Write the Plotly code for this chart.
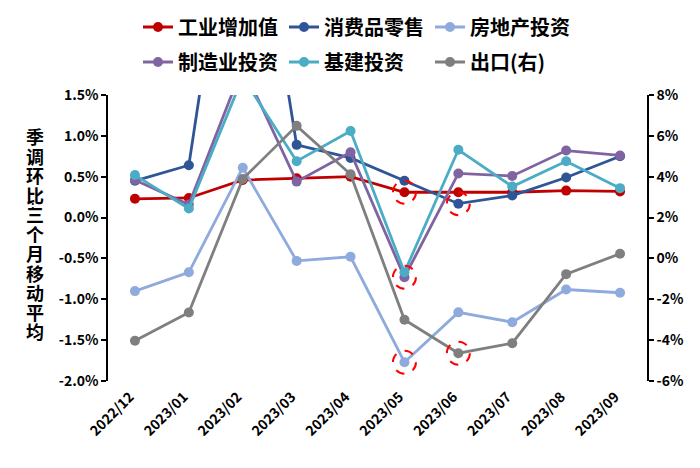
import plotly.graph_objects as go

# ---------------- data ----------------
categories = ["2022/12", "2023/01", "2023/02", "2023/03", "2023/04",
              "2023/05", "2023/06", "2023/07", "2023/08", "2023/09"]

industrial = [0.23, 0.24, 0.46, 0.48, 0.50, 0.31, 0.31, 0.31, 0.33, 0.32]
retail = [0.45, 0.64, 5.00, 0.89, 0.73, 0.45, 0.17, 0.27, 0.49, 0.75]
real_estate = [-0.90, -0.67, 0.61, -0.53, -0.48, -1.77, -1.16, -1.28, -0.88, -0.92]
manufacturing = [0.46, 0.16, 1.85, 0.44, 0.80, -0.73, 0.54, 0.51, 0.82, 0.76]
infrastructure = [0.52, 0.11, 1.72, 0.69, 1.06, -0.67, 0.83, 0.38, 0.69, 0.36]
exports_right = [-4.03, -2.65, 3.89, 6.49, 4.12, -3.00, -4.64, -4.15, -0.77, 0.23]

series_names = ["工业增加值", "消费品零售", "房地产投资", "制造业投资", "基建投资", "出口(右)"]

left_range = [-2.0, 1.5]
right_range = [-6, 8]
left_ticks = [-2.0, -1.5, -1.0, -0.5, 0.0, 0.5, 1.0, 1.5]
right_ticks = [-6, -4, -2, 0, 2, 4, 6, 8]

highlights = [("工业增加值", "2023/05"), ("消费品零售", "2023/06"),
              ("制造业投资", "2023/05"), ("房地产投资", "2023/05"),
              ("出口(右)", "2023/06")]

y_title = "季调环比:三个月移动平均"

# ---------------- styling ----------------
FONT = "Noto Sans CJK SC"
colors = {
    "工业增加值": "#C00000",
    "消费品零售": "#2F5597",
    "房地产投资": "#8FAADC",
    "制造业投资": "#8064A2",
    "基建投资": "#4BACC6",
    "出口(右)": "#7F7F7F",
}
values = {
    "工业增加值": industrial,
    "消费品零售": retail,
    "房地产投资": real_estate,
    "制造业投资": manufacturing,
    "基建投资": infrastructure,
    "出口(右)": exports_right,
}

# the page body has an 8px default margin; the figure is sized to fill the window
PAGE_OFF = 8
W, H = 700 - PAGE_OFF, 468 - PAGE_OFF
# plot area in screen pixels: x 108..647, y 95..381
SX0, SX1, SY0, SY1 = 108, 647, 95, 381
ML, MR = SX0 - PAGE_OFF, W - (SX1 - PAGE_OFF)
MT, MB = SY0 - PAGE_OFF, H - (SY1 - PAGE_OFF)
PW, PH = SX1 - SX0, SY1 - SY0


def px_to_paper_x(sx):
    return (sx - SX0) / PW


def px_to_paper_y(sy):
    return (SY1 - sy) / PH


def px_to_cont_x(sx):
    return (sx - PAGE_OFF) / W


def px_to_cont_y(sy):
    return 1 - (sy - PAGE_OFF) / H


fig = go.Figure()
for i, name in enumerate(series_names):
    right = name == "出口(右)"
    fig.add_trace(go.Scatter(
        x=categories, y=values[name], name=name,
        mode="lines+markers",
        line=dict(color=colors[name], width=2.8),
        marker=dict(color=colors[name], size=10),
        yaxis="y2" if right else "y",
        legend="legend" if i < 3 else "legend2",
    ))

# dashed highlight circles
shapes = []
for name, cat in highlights:
    idx = categories.index(cat)
    val = values[name][idx]
    shapes.append(dict(
        type="circle", xref="x", yref="y2" if name == "出口(右)" else "y",
        xsizemode="pixel", ysizemode="pixel",
        xanchor=idx, yanchor=val,
        x0=-11.5, x1=11.5, y0=-11.5, y1=11.5,
        line=dict(color="#FF0000", width=2, dash="dash"),
        layer="above",
    ))

# vertical y-axis title, characters stacked upright
annotations = []
title_chars = [c for c in y_title if c != ":"]
pitch = 19.5
y_first = 136
for i, ch in enumerate(title_chars):
    annotations.append(dict(
        text=ch, xref="paper", yref="paper",
        x=px_to_paper_x(35), y=px_to_paper_y(y_first + i * pitch),
        showarrow=False, xanchor="center", yanchor="middle",
        font=dict(family=FONT, size=18, color="black", weight="bold"),
    ))
annotations.append(dict(
    text=":", xref="paper", yref="paper",
    x=px_to_paper_x(33), y=px_to_paper_y(y_first + 3.5 * pitch),
    showarrow=False, xanchor="center", yanchor="middle",
    font=dict(family=FONT, size=11, color="black", weight="bold"),
))

zero_pos = (0 - left_range[0]) / (left_range[1] - left_range[0])
tick_font = dict(family=FONT, size=14, color="black", weight="bold")
legend_font = dict(family=FONT, size=20, color="black", weight="bold")

legend_common = dict(
    orientation="h", xref="container", yref="container",
    x=px_to_cont_x(138), xanchor="left", yanchor="middle",
    entrywidth=101, entrywidthmode="pixels",
    font=legend_font, traceorder="normal", bgcolor="rgba(0,0,0,0)",
)

fig.update_layout(
    width=W, height=H,
    margin=dict(l=ML, r=MR, t=MT, b=MB, autoexpand=False),
    plot_bgcolor="white", paper_bgcolor="white",
    showlegend=True,
    legend=dict(legend_common, y=px_to_cont_y(27)),
    legend2=dict(legend_common, y=px_to_cont_y(62)),
    xaxis=dict(
        type="category", categoryorder="array", categoryarray=categories,
        range=[-0.5, len(categories) - 0.5],
        showline=False, ticks="", showgrid=False, zeroline=False,
        tickangle=-45, tickfont=tick_font, ticklabelshift=-5,
        ticklabelstandoff=4,
    ),
    xaxis2=dict(
        overlaying="x", anchor="free", position=zero_pos,
        range=[-0.5, len(categories) - 0.5],
        tickvals=[i + 0.5 for i in range(len(categories) - 1)],
        ticks="outside", ticklen=5, tickcolor="black", tickwidth=1.5,
        showticklabels=False, showline=True, linecolor="black", linewidth=1.5,
        showgrid=False, zeroline=False,
    ),
    yaxis=dict(
        range=left_range, tickvals=left_ticks,
        ticktext=[f"{v:.1f}%" for v in left_ticks],
        showline=True, linecolor="black", linewidth=1.5,
        ticks="outside", ticklen=5, tickcolor="black", tickwidth=1.5,
        showgrid=False, zeroline=False, tickfont=tick_font,
    ),
    yaxis2=dict(
        overlaying="y", side="right", range=right_range, tickvals=right_ticks,
        ticktext=[f"{v}%" for v in right_ticks],
        showline=True, linecolor="black", linewidth=1.5,
        ticks="outside", ticklen=5, tickcolor="black", tickwidth=1.5,
        showgrid=False, zeroline=False, tickfont=tick_font,
    ),
    shapes=shapes,
    annotations=annotations,
)

fig.write_html("out.html")
